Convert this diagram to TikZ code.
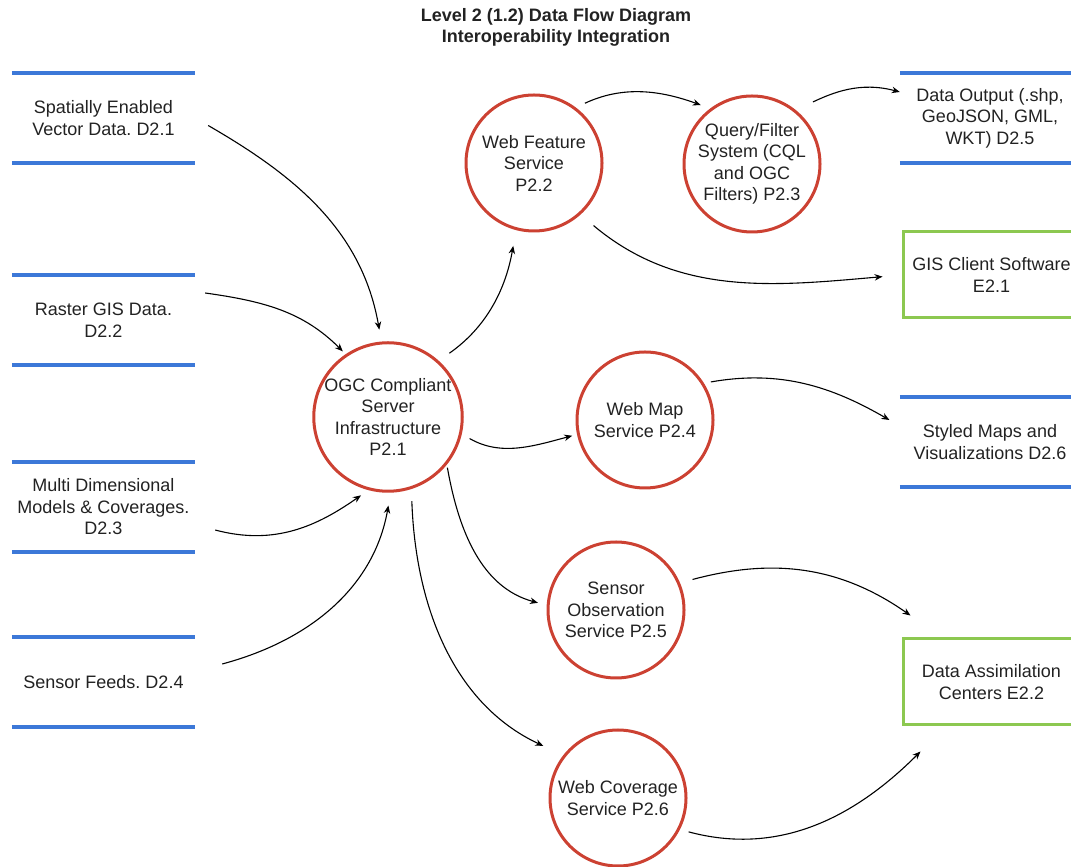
\documentclass[tikz,border=0pt]{standalone}
\usepackage{fontspec}
\setmainfont{Liberation Sans}
\usetikzlibrary{arrows.meta}
\definecolor{storeblue}{RGB}{60,120,216}
\definecolor{procred}{RGB}{204,65,50}
\definecolor{entgreen}{RGB}{140,200,80}
\definecolor{ink}{RGB}{34,34,34}
\frenchspacing

\begin{document}
\begin{tikzpicture}[x=1pt,y=1pt,
  every node/.style={font=\fontsize{18}{21.5}\selectfont, text=ink, align=center},
  proc/.style={circle, draw=procred, line width=3pt, inner sep=0pt, minimum size=136pt},
  store/.style={rectangle, inner sep=0pt, minimum height=90pt},
  storeline/.style={draw=storeblue, line width=4.5pt},
  entity/.style={rectangle, draw=entgreen, line width=3pt, inner sep=0pt,
                 minimum width=177pt, minimum height=86pt},
  flow/.style={draw=black, line width=1.1pt, -{Stealth[length=8pt,width=6.5pt]}},
]
\useasboundingbox (0,0) rectangle (1071,867);

% title
\node[font=\bfseries\fontsize{18}{21}\selectfont] (title) at (556,839.5)
  {Level 2 (1.2) Data Flow Diagram\\Interoperability Integration};

% data stores
\node[store, minimum width=183pt] (d1) at (103.5,749) {Spatially Enabled\\Vector Data. D2.1};
\node[store, minimum width=183pt] (d2) at (103.5,547) {Raster GIS Data.\\D2.2};
\node[store, minimum width=183pt] (d3) at (103.5,360) {Multi Dimensional\\Models \& Coverages.\\D2.3};
\node[store, minimum width=183pt] (d4) at (103.5,185) {Sensor Feeds. D2.4};
\node[store, minimum width=180pt] (d5) at (990,749) {Data Output (.shp,\\GeoJSON, GML,\\WKT) D2.5};
\node[store, minimum width=180pt] (d6) at (990,425) {Styled Maps and\\Visualizations D2.6};
\foreach \s in {d1,d2,d3,d4,d5,d6} {
  \draw[storeline] (\s.north west) -- (\s.north east);
  \draw[storeline] (\s.south west) -- (\s.south east);
}

% external entities
\node[entity] (e1) at (991.5,592) {GIS Client Software\\E2.1};
\node[entity] (e2) at (991.5,185) {Data Assimilation\\Centers E2.2};

% processes
\node[proc] (p1) at (388,450) {OGC Compliant\\Server\\Infrastructure\\P2.1};
\node[proc] (p2) at (534,704) {Web Feature\\Service\\P2.2};
\node[proc] (p3) at (752,703) {Query/Filter\\System (CQL\\and OGC\\Filters) P2.3};
\node[proc] (p4) at (645,447) {Web Map\\Service P2.4};
\node[proc] (p5) at (616,257) {Sensor\\Observation\\Service P2.5};
\node[proc] (p6) at (618,69) {Web Coverage\\Service P2.6};

% flows into the server
\draw[flow, shorten <=15pt, shorten >=12pt] (d1.east) to[out=-30, in=100] (p1.95);
\draw[flow, shorten >=4pt] ([xshift=10pt,yshift=27pt]d2.east) to[out=-8, in=135] (p1.124);
\draw[flow, shorten >=9pt] ([xshift=20pt,yshift=-23pt]d3.east) to[out=-15, in=215] (p1.255);
\draw[flow, shorten >=13pt] ([xshift=27pt,yshift=18pt]d4.east) to[out=15, in=-100] (p1.-88);

% flows out of the server
\draw[flow, shorten <=13pt, shorten >=16pt] (p1.48) to[out=35, in=-100] (p2.-105);
\draw[flow, shorten <=9pt, shorten >=5pt] (p1.-13) to[out=-30, in=195] (p4.192);
\draw[flow, shorten <=3pt, shorten >=9pt] (p1.-39) to[out=-80, in=165] (p5.176);
\draw[flow, shorten <=12pt, shorten >=22pt] (p1.-72) to[out=-88, in=155] (p6.142);

% downstream flows
\draw[flow, shorten <=10pt, shorten >=10pt] (p2.53) to[out=25, in=160] (p3.127);
\draw[flow, shorten <=19pt] (p3.51) to[out=25, in=165] ([yshift=26pt]d5.west);
\draw[flow, shorten <=17pt, shorten >=19pt] (p2.-48) to[out=-40, in=185] (e1.west);
\draw[flow, shorten <=7pt, shorten >=12pt] (p4.32) to[out=10, in=150] ([yshift=16pt]d6.west);
\draw[flow, shorten <=13pt] (p5.23) to[out=15, in=145] ([xshift=9pt,yshift=22pt]e2.north west);
\draw[flow, shorten <=9pt] (p6.-27) to[out=-15, in=225] ([xshift=19pt,yshift=-25pt]e2.south west);
\end{tikzpicture}
\end{document}
